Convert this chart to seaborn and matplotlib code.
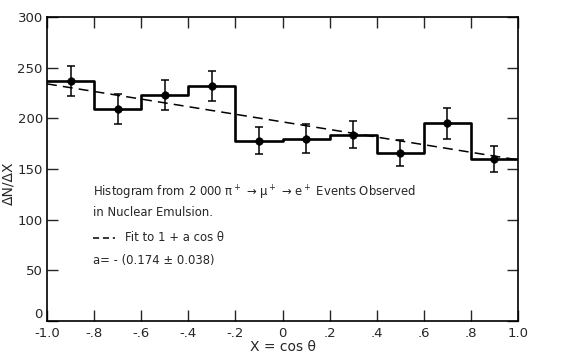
import numpy as np
import pandas as pd
import matplotlib
matplotlib.use("Agg")
import matplotlib.pyplot as plt
import seaborn as sns

# Data
bin_edges = [-1.0, -0.8, -0.6, -0.4, -0.2, 0.0, 0.2, 0.4, 0.6, 0.8, 1.0]
bin_centers = [-0.9, -0.7, -0.5, -0.3, -0.1, 0.1, 0.3, 0.5, 0.7, 0.9]
counts = [237, 209, 223, 232, 178, 180, 184, 166, 195, 160]
errors = [15, 15, 15, 15, 13, 14, 13, 13, 15, 13]
fit_x = [-1.0, 1.0]
fit_y = [234, 159]
x_ticks = [-1.0, -0.8, -0.6, -0.4, -0.2, 0.0, 0.2, 0.4, 0.6, 0.8, 1.0]
x_tick_labels = ["-1.0", "-.8", "-.6", "-.4", "-.2", "0", ".2", ".4", ".6", ".8", "1.0"]
y_ticks = [0, 50, 100, 150, 200, 250, 300]
y_tick_labels = ["0", "50", "100", "150", "200", "250", "300"]

sns.set_style("ticks")
plt.rcParams["font.family"] = ["DejaVu Sans"]

fig = plt.figure(figsize=(5.65, 3.54), dpi=100)
ax = fig.add_axes([0.0832, 0.0932, 0.8336, 0.8588])

step_df = pd.DataFrame({"x": bin_edges, "y": counts + [counts[-1]]})
sns.lineplot(data=step_df, x="x", y="y", drawstyle="steps-post", color="black",
             linewidth=1.9, ax=ax, sort=False)

fit_df = pd.DataFrame({"x": fit_x, "y": fit_y})
sns.lineplot(data=fit_df, x="x", y="y", color="black", linewidth=1.1,
             linestyle=(0, (6.5, 4)), ax=ax)

pts_df = pd.DataFrame({"x": bin_centers, "y": counts, "e": errors})
ax.errorbar(pts_df["x"], pts_df["y"], yerr=pts_df["e"], fmt="none",
            ecolor="black", elinewidth=1.1, capsize=3, capthick=1.1)
sns.scatterplot(data=pts_df, x="x", y="y", color="black", s=30, ax=ax,
                edgecolor="black", zorder=5)

ax.set_xlim(-1.0, 1.0)
ax.set_ylim(0, 300)
ax.set_xticks(x_ticks)
ax.set_xticklabels(x_tick_labels)
ax.set_yticks(y_ticks)
ax.set_yticklabels(y_tick_labels)
ax.tick_params(axis="both", direction="in", length=8, width=1, labelsize=9.5,
               top=True, right=True)
ax.tick_params(axis="x", pad=4)
ax.tick_params(axis="y", pad=3)
ax.get_yticklabels()[0].set_va("bottom")
for s in ax.spines.values():
    s.set_visible(True)
    s.set_linewidth(1.2)
    s.set_color("black")

ax.set_xlabel("X = cos θ", fontsize=10, labelpad=0)
ax.set_ylabel("ΔN/ΔX", fontsize=10)
ax.yaxis.set_label_coords(-0.068, 0.453)

fs = 8.4
ax.text(-0.805, 126, "Histogram from 2 000 π$^+$ → μ$^+$ → e$^+$ Events Observed",
        fontsize=fs, va="center", ha="left")
ax.text(-0.805, 107.5, "in Nuclear Emulsion.", fontsize=fs, va="center", ha="left")
ax.plot([-0.805, -0.711], [82, 82], color="black", linewidth=1.1,
        linestyle=(0, (4, 2.5)))
ax.text(-0.67, 82, "Fit to 1 + a cos θ", fontsize=fs, va="center", ha="left")
ax.text(-0.805, 60, "a= - (0.174 ± 0.038)", fontsize=fs, va="center", ha="left")

fig.savefig("out.png", dpi=100)
